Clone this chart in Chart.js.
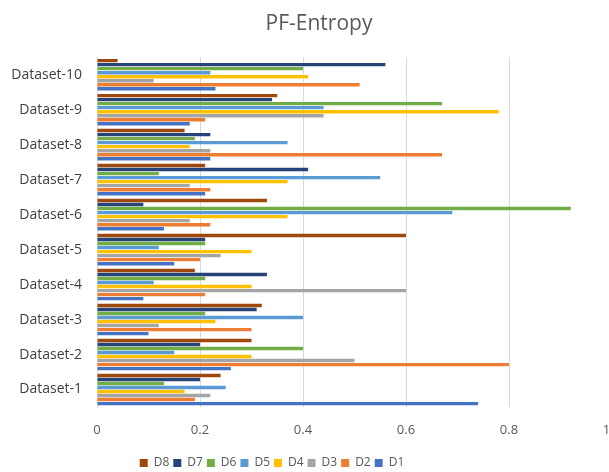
<!DOCTYPE html>
<html>
<head>
<meta charset="utf-8">
<script src="https://cdn.jsdelivr.net/npm/chart.js@4.4.1/dist/chart.umd.min.js"></script>
<style>
    html, body { margin: 0; padding: 0; background: #fff; overflow: hidden; }
    #wrap { width: 640px; height: 472px; }
</style>
</head>
<body>
<div id="wrap"><canvas id="pfChart"></canvas></div>
<script>
const categories = ['Dataset-1', 'Dataset-2', 'Dataset-3', 'Dataset-4', 'Dataset-5',
    'Dataset-6', 'Dataset-7', 'Dataset-8', 'Dataset-9', 'Dataset-10'];

const d1 = [0.74, 0.26, 0.10, 0.09, 0.15, 0.13, 0.21, 0.22, 0.18, 0.23];
const d2 = [0.19, 0.80, 0.30, 0.21, 0.20, 0.22, 0.22, 0.67, 0.21, 0.51];
const d3 = [0.22, 0.50, 0.12, 0.60, 0.24, 0.18, 0.18, 0.22, 0.44, 0.11];
const d4 = [0.17, 0.30, 0.23, 0.30, 0.30, 0.37, 0.37, 0.18, 0.78, 0.41];
const d5 = [0.25, 0.15, 0.40, 0.11, 0.12, 0.69, 0.55, 0.37, 0.44, 0.22];
const d6 = [0.13, 0.40, 0.21, 0.21, 0.21, 0.92, 0.12, 0.19, 0.67, 0.40];
const d7 = [0.20, 0.20, 0.31, 0.33, 0.21, 0.09, 0.41, 0.22, 0.34, 0.56];
const d8 = [0.24, 0.30, 0.32, 0.19, 0.60, 0.33, 0.21, 0.17, 0.35, 0.04];

// top of each group first, so D8 sits on top and D1 at the bottom
const series = [
    { label: 'D8', data: d8, color: '#9E480E' },
    { label: 'D7', data: d7, color: '#264478' },
    { label: 'D6', data: d6, color: '#70AD47' },
    { label: 'D5', data: d5, color: '#5B9BD5' },
    { label: 'D4', data: d4, color: '#FFC000' },
    { label: 'D3', data: d3, color: '#A5A5A5' },
    { label: 'D2', data: d2, color: '#ED7D31' },
    { label: 'D1', data: d1, color: '#4472C4' },
];

const fontFamily = '"Open Sans", "Liberation Sans", sans-serif';
Chart.defaults.font.family = fontFamily;
Chart.defaults.color = '#595959';

// the original is cropped on the right, so nudge legend and title to where they sit there
const boxShift = {
    id: 'boxShift',
    afterLayout(chart) {
        const lg = chart.legend;
        if (lg) {
            lg.right -= 78;
            lg.top += 7;
            lg.bottom += 7;
        }
        const tb = chart.titleBlock;
        if (tb) {
            tb.left += 16;
            tb.top += 2;
            tb.bottom += 2;
        }
    }
};

const ctx = document.getElementById('pfChart').getContext('2d');
new Chart(ctx, {
    type: 'bar',
    data: {
        labels: categories,
        datasets: series.map(s => ({
            label: s.label,
            data: s.data,
            backgroundColor: s.color,
            borderWidth: 0,
            categoryPercentage: 0.92,
            barPercentage: 0.85
        }))
    },
    options: {
        indexAxis: 'y',
        responsive: true,
        maintainAspectRatio: false,
        animation: false,
        layout: { padding: { left: 10, right: 28, top: 0, bottom: 0 } },
        plugins: {
            title: {
                display: true,
                text: 'PF-Entropy',
                color: '#595959',
                font: { size: 21, weight: 'normal' },
                padding: { top: 9, bottom: 23 }
            },
            legend: {
                position: 'bottom',
                labels: {
                    boxWidth: 8,
                    boxHeight: 8,
                    padding: 4,
                    color: '#595959',
                    font: { size: 12 }
                }
            },
            tooltip: { enabled: false }
        },
        scales: {
            x: {
                min: 0,
                max: 1,
                ticks: { stepSize: 0.2, color: '#595959', font: { size: 13 }, padding: 15 },
                grid: { color: '#d9d9d9', drawTicks: false },
                border: { display: false },
                afterFit: function (scale) { scale.height = 39; }
            },
            y: {
                reverse: true,
                ticks: { color: '#404040', font: { size: 14 }, padding: 15 },
                grid: { display: false, drawTicks: false },
                border: { display: true, color: '#d9d9d9' },
                afterFit: function (scale) { scale.width = 87; }
            }
        }
    },
    plugins: [boxShift]
});
</script>
</body>
</html>
